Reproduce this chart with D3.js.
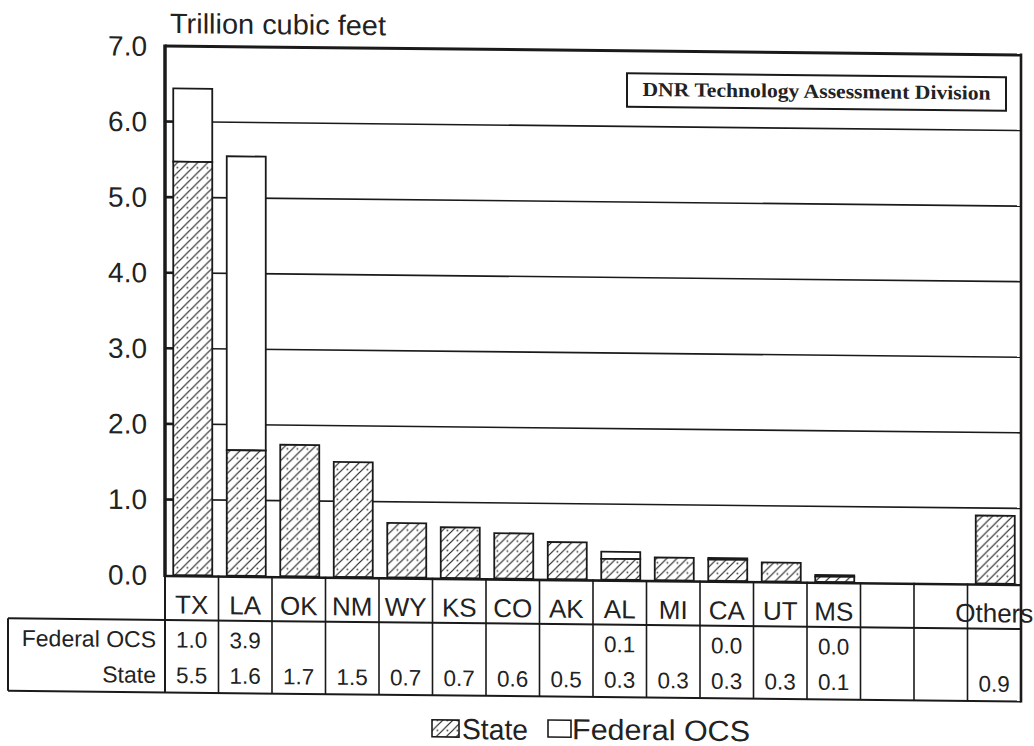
<!DOCTYPE html>
<html>
<head>
<meta charset="utf-8">
<script src="https://cdn.jsdelivr.net/npm/d3@7"></script>
<style>
  html, body { margin: 0; padding: 0; background: #fff; }
  svg { display: block; }
  text { font-family: "Liberation Sans", Arial, sans-serif; fill: #222; }
</style>
</head>
<body>
<svg id="chart" width="1034" height="746"></svg>
<script>
// ---- data ----
const categories = ["TX","LA","OK","NM","WY","KS","CO","AK","AL","MI","CA","UT","MS","","","Others"];
const stateValues = [5.47,1.66,1.74,1.52,0.72,0.67,0.6,0.49,0.275,0.3,0.28,0.25,0.07,null,null,0.9];
const federalValues = [0.97,3.89,0,0,0,0,0,0,0.095,0,0.02,0,0.02,null,null,0];
const federalLabels = ["1.0","3.9","","","","","","","0.1","","0.0","","0.0","","",""];
const stateLabels = ["5.5","1.6","1.7","1.5","0.7","0.7","0.6","0.5","0.3","0.3","0.3","0.3","0.1","","","0.9"];
const yTicks = [0,1,2,3,4,5,6,7];
const rowLabels = ["Federal OCS","State"];
const legendLabels = ["State","Federal OCS"];
const unitLabel = "Trillion cubic feet";
const sourceLabel = "DNR Technology Assessment Division";

// ---- layout ----
const L = 165, R = 1021, TOP = 46, BASE = 575;
const tableHeadLine = 620, tableBottom = 692.5, tableLeft = 8;
const k = 0.0105; // slight scan skew

const svg = d3.select("#chart");
const defs = svg.append("defs");
const pat = defs.append("pattern").attr("id","hatch").attr("patternUnits","userSpaceOnUse")
  .attr("width",10).attr("height",10);
pat.append("rect").attr("width",10).attr("height",10).attr("fill","#fff");
pat.append("path").attr("d","M0,10 L10,0 M-2,2 L2,-2 M8,12 L12,8")
  .attr("stroke","#222").attr("stroke-width",1.1);
pat.append("circle").attr("cx",7.5).attr("cy",7.5).attr("r",0.9).attr("fill","#444");

const g = svg.append("g")
  .attr("transform", `translate(0,${-k*L}) skewY(${Math.atan(k)*180/Math.PI})`);

const x = d3.scaleBand().domain(d3.range(categories.length)).range([L, R]).padding(0);
const y = d3.scaleLinear().domain([0, 7]).range([BASE, TOP]);
const barW = 39;
const bx = i => x(i) + (x.bandwidth() - barW) / 2 + 1;

// gridlines
g.append("g").selectAll("line").data(yTicks.filter(v => v > 0 && v < 7)).join("line")
  .attr("x1", L).attr("x2", R).attr("y1", d => y(d)).attr("y2", d => y(d))
  .attr("stroke","#1a1a1a").attr("stroke-width",1.6);
// inward ticks
g.append("g").selectAll("line").data(yTicks.filter(v => v > 0 && v < 7)).join("line")
  .attr("x1", L).attr("x2", L + 16).attr("y1", d => y(d)).attr("y2", d => y(d))
  .attr("stroke","#1a1a1a").attr("stroke-width",2.6);

// bars
const idx = d3.range(categories.length).filter(i => stateValues[i] != null);
g.append("g").selectAll("rect.fed").data(idx.filter(i => federalValues[i] > 0)).join("rect")
  .attr("class","fed")
  .attr("x", bx).attr("width", barW)
  .attr("y", i => y(stateValues[i] + federalValues[i]))
  .attr("height", i => y(stateValues[i]) - y(stateValues[i] + federalValues[i]))
  .attr("fill","#fff").attr("stroke","#1a1a1a").attr("stroke-width",1.8);
g.append("g").selectAll("rect.st").data(idx).join("rect")
  .attr("class","st")
  .attr("x", bx).attr("width", barW)
  .attr("y", i => y(stateValues[i]))
  .attr("height", i => y(0) - y(stateValues[i]))
  .attr("fill","url(#hatch)").attr("stroke","#1a1a1a").attr("stroke-width",1.8);

// frame
g.append("line").attr("x1", L).attr("x2", R + 1).attr("y1", y(7)).attr("y2", y(7))
  .attr("stroke","#1a1a1a").attr("stroke-width",3);
g.append("line").attr("x1", L).attr("x2", R).attr("y1", y(0)+1).attr("y2", y(0)+1)
  .attr("stroke","#1a1a1a").attr("stroke-width",2.6);
g.append("line").attr("x1", L).attr("x2", L).attr("y1", y(7)-1.5).attr("y2", y(0)+2)
  .attr("stroke","#1a1a1a").attr("stroke-width",3.5);
g.append("line").attr("x1", L).attr("x2", L).attr("y1", y(0)).attr("y2", tableBottom)
  .attr("stroke","#1a1a1a").attr("stroke-width",2);
g.append("line").attr("x1", R).attr("x2", R).attr("y1", y(7)-1.5).attr("y2", tableBottom+1)
  .attr("stroke","#1a1a1a").attr("stroke-width",2.6);

// y tick labels
g.append("g").selectAll("text").data(yTicks).join("text")
  .attr("x", 147).attr("y", d => y(d) + 10)
  .attr("text-anchor","end").attr("font-size",28)
  .text(d => d.toFixed(1));

// unit label
g.append("text").attr("x", 170).attr("y", 33).attr("font-size",28)
  .attr("textLength",216).attr("lengthAdjust","spacingAndGlyphs").text(unitLabel);

// source box
g.append("rect").attr("x",627).attr("y",68.5).attr("width",379).attr("height",33.5)
  .attr("fill","#fff").attr("stroke","#1a1a1a").attr("stroke-width",2);
g.append("text").attr("x",816.5).attr("y",91).attr("text-anchor","middle")
  .attr("font-size",20).attr("font-weight","bold")
  .style("font-family",'"Liberation Serif","Times New Roman",serif')
  .attr("textLength",348).attr("lengthAdjust","spacingAndGlyphs")
  .text(sourceLabel);

// table lines
[tableHeadLine, tableBottom].forEach(v => {
  g.append("line").attr("x1", tableLeft).attr("x2", R).attr("y1", v).attr("y2", v)
    .attr("stroke","#1a1a1a").attr("stroke-width",2);
});
g.append("line").attr("x1", tableLeft).attr("x2", tableLeft).attr("y1", tableHeadLine).attr("y2", tableBottom)
  .attr("stroke","#1a1a1a").attr("stroke-width",2);
g.append("g").selectAll("line").data(d3.range(1, categories.length)).join("line")
  .attr("x1", i => x(i)).attr("x2", i => x(i)).attr("y1", y(0)).attr("y2", tableBottom)
  .attr("stroke","#1a1a1a").attr("stroke-width",1.6);

const cx = i => x(i) + x.bandwidth() / 2;
// category labels
g.append("g").selectAll("text").data(d3.range(categories.length)).join("text")
  .attr("x", cx).attr("y", 613.5).attr("text-anchor","middle").attr("font-size",26)
  .text(i => categories[i]);
// row labels
g.append("g").selectAll("text").data(rowLabels).join("text")
  .attr("x", 156).attr("y", (d, j) => j === 0 ? 647.5 : 683)
  .attr("text-anchor","end").attr("font-size",23).text(d => d);
// values
g.append("g").selectAll("text").data(d3.range(categories.length)).join("text")
  .attr("x", cx).attr("y", 647.5).attr("text-anchor","middle").attr("font-size",22.5)
  .text(i => federalLabels[i]);
g.append("g").selectAll("text").data(d3.range(categories.length)).join("text")
  .attr("x", cx).attr("y", 683).attr("text-anchor","middle").attr("font-size",22.5)
  .text(i => stateLabels[i]);

// legend
const lg = g.append("g");
lg.append("rect").attr("x",432).attr("y",717).attr("width",27).attr("height",17)
  .attr("fill","url(#hatch)").attr("stroke","#1a1a1a").attr("stroke-width",1.6);
lg.append("text").attr("x",462).attr("y",736).attr("font-size",29)
  .attr("textLength",66).attr("lengthAdjust","spacingAndGlyphs").text(legendLabels[0]);
lg.append("rect").attr("x",548).attr("y",716).attr("width",23).attr("height",17)
  .attr("fill","#fff").attr("stroke","#1a1a1a").attr("stroke-width",1.6);
lg.append("text").attr("x",572).attr("y",735).attr("font-size",29)
  .attr("textLength",178).attr("lengthAdjust","spacingAndGlyphs").text(legendLabels[1]);
</script>
</body>
</html>
